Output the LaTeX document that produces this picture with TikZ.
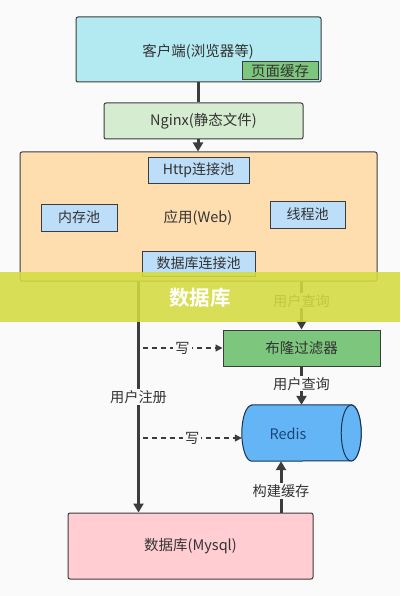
\documentclass[tikz,border=0pt]{standalone}
\usepackage{fontspec}
\setmainfont{Noto Sans CJK SC}
\newfontfamily\cjkbold{Noto Sans CJK SC Bold}
\usetikzlibrary{arrows.meta,shapes.geometric}
\definecolor{bgc}{RGB}{250,250,250}
\definecolor{txt}{RGB}{51,51,51}
\definecolor{edge}{RGB}{60,60,60}
\definecolor{clientc}{RGB}{179,233,240}
\definecolor{greenc}{RGB}{125,198,125}
\definecolor{nginxc}{RGB}{213,236,208}
\definecolor{appc}{RGB}{254,222,175}
\definecolor{poolc}{RGB}{189,222,248}
\definecolor{redisc}{RGB}{100,181,246}
\definecolor{redisedge}{RGB}{25,50,80}
\definecolor{redistxt}{RGB}{25,70,120}
\definecolor{mysqlc}{RGB}{255,205,210}
\definecolor{bandc}{RGB}{212,220,64}
\tikzset{
  mainfont/.style={font=\fontsize{14.5}{17}\selectfont},
  box/.style={draw=edge, line width=1pt, rounded corners=2pt, inner sep=0pt, text=txt, mainfont},
  pool/.style={draw=edge, line width=1pt, fill=poolc, inner sep=0pt, text=txt, font=\fontsize{14}{17}\selectfont},
  conn/.style={line width=3pt, draw=edge},
  arr/.style={conn, -{Triangle[length=9pt,width=10pt]}},
  darr/.style={line width=1.2pt, draw=edge, dashed, dash pattern=on 5pt off 4pt, -{Triangle[length=7pt,width=7pt]}},
  lbl/.style={fill=bgc, inner sep=1pt, text=txt, font=\fontsize{14.2}{17}\selectfont},
  cyl/.style={draw=redisedge, line width=1pt, fill=redisc},
}
\begin{document}
\begin{tikzpicture}[x=1pt,y=-1pt]
\fill[bgc] (0,0) rectangle (400,596);
\useasboundingbox (0,0) rectangle (400,596);

\node[box, fill=clientc, minimum width=245pt, minimum height=65pt] (client) at (198.5,49.5) {};
\node[text=txt, mainfont] (clienttxt) at (198,52) {客户端(浏览器等)};
\node[box, rounded corners=0pt, fill=greenc, minimum width=76pt, minimum height=18pt] (pagecache) at (280,71) {页面缓存};

\node[box, fill=nginxc, minimum width=199pt, minimum height=36pt] (nginx) at (203.5,121) {Nginx(静态文件)};

\node[box, fill=appc, minimum width=357pt, minimum height=129pt] (app) at (198.5,216.5) {};
\node[text=txt, mainfont] (apptxt) at (198,218) {应用(Web)};
\node[pool, minimum width=101pt, minimum height=25pt] (http) at (198.5,170.5) {Http连接池};
\node[pool, minimum width=76pt, minimum height=27pt] (mem) at (79,217.5) {内存池};
\node[pool, minimum width=75pt, minimum height=27pt] (thread) at (307.5,214.5) {线程池};
\node[pool, minimum width=113pt, minimum height=25pt] (dbpool) at (198.5,263.5) {数据库连接池};

\node[box, rounded corners=0pt, fill=greenc, minimum width=157pt, minimum height=36pt] (bloom) at (301.5,348) {布隆过滤器};

% Redis cylinder (horizontal)
\node[inner sep=0pt, minimum width=119pt, minimum height=56pt] (redis) at (301.5,433) {};
\draw[cyl] ([xshift=10pt]redis.north west) -- ([xshift=-10pt]redis.north east)
  arc[start angle=90, end angle=-90, x radius=10pt, y radius=28pt]
  -- ([xshift=10pt]redis.south west)
  arc[start angle=-90, end angle=-270, x radius=10pt, y radius=28pt] -- cycle;
\draw[cyl] ([xshift=-10pt]redis.east) ellipse[x radius=10pt, y radius=28pt];
\node[text=redistxt, mainfont] (redistxt) at (288,434) {Redis};

\node[box, fill=mysqlc, minimum width=245pt, minimum height=66pt] (mysql) at (190.5,546) {数据库(Mysql)};

\coordinate (regx) at (138.5,0);
\coordinate (bx) at (281,0);

% connectors
\draw[conn] (client.south -| clienttxt) -- (nginx.north -| clienttxt);
\draw[arr] (nginx.south -| clienttxt) -- (app.north -| clienttxt);
\draw[arr] (app.south -| regx) -- (mysql.north -| regx)
  node[lbl, pos=0.5] (reglbl) {用户注册};
\draw[arr] (app.south -| bloom.north) -- (bloom.north)
  node[lbl, pos=0.4] (q1) {用户查询};
\draw[arr] (bloom.south) -- (redis.north)
  node[lbl, pos=0.45] (q2) {用户查询};
\draw[darr] ([xshift=4pt]regx |- bloom.west) -- (bloom.west)
  node[lbl, pos=0.5, inner sep=2pt] (w1) {写};
\draw[darr] ([xshift=4pt,yshift=-5pt]regx |- redis.west) -- ([yshift=-5pt]redis.west)
  node[lbl, pos=0.5, inner sep=2pt] (w2) {写};
\draw[arr] (mysql.north -| bx) -- (redis.south -| bx)
  node[lbl, pos=0.42] (build) {构建缓存};

% overlay band
\fill[bandc, opacity=0.88] (0,272) rectangle (400,322);
\node[text=white, font=\cjkbold\fontsize{20.5}{24}\selectfont] (band) at (200,298) {数据库};
\end{tikzpicture}
\end{document}
